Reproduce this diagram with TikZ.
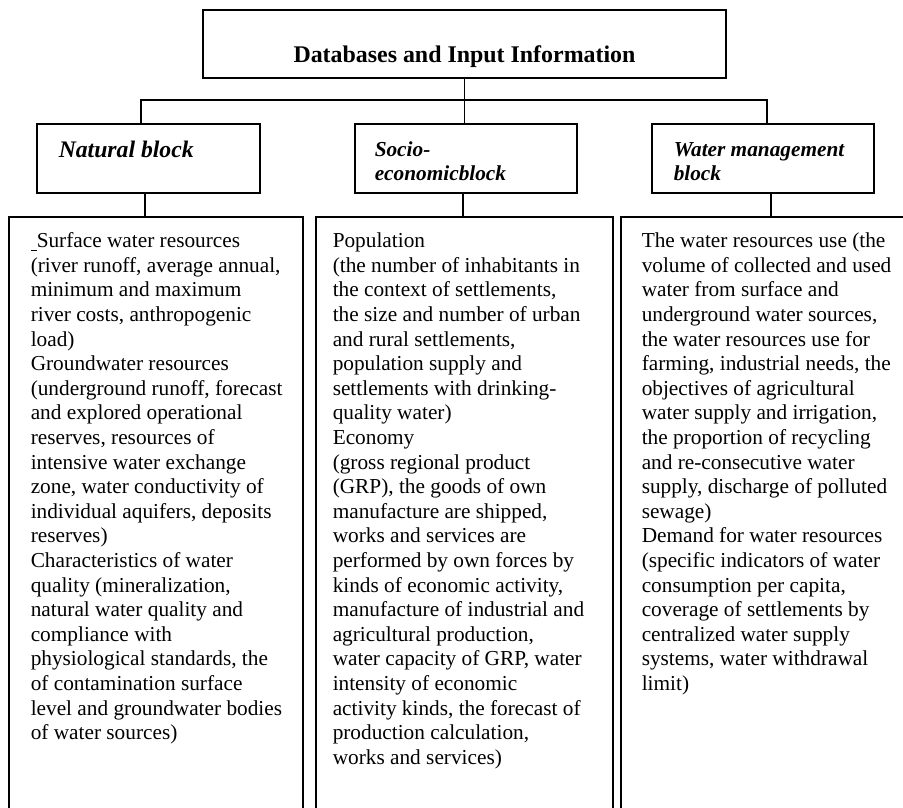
\documentclass[tikz,border=0pt]{standalone}
\usepackage{fontspec}
\setmainfont{Liberation Serif}
\usetikzlibrary{positioning}

\begin{document}
\begin{tikzpicture}[x=1pt, y=-1pt, line width=1.5pt,
  box/.style={draw, rectangle, inner sep=0pt},
  headtext/.style={anchor=north west, inner sep=0pt, align=left, font=\fontsize{21.3}{24}\selectfont\bfseries\itshape},
  bodytext/.style={anchor=north west, inner sep=0pt, align=left, font=\fontsize{21.3}{24.6}\selectfont}]
  \useasboundingbox (0,0) rectangle (903,808);
  \clip (0,0) rectangle (903,808);
  % title and the three block headers
  \node[box, minimum width=523, minimum height=68] (db)  at (464.5,44)  {};
  \node[anchor=base, inner sep=0pt, font=\fontsize{23.9}{27}\selectfont\bfseries] (dbtext) at (464.5,63) {Databases and Input Information};
  \node[box, minimum width=223, minimum height=69] (nat) at (148.5,158.5) {};
  \node[box, minimum width=222, minimum height=69] (soc) at (466,158.5)   {};
  \node[box, minimum width=222, minimum height=69] (wat) at (763,158.5)   {};
  \node[headtext, font=\fontsize{23.7}{24}\selectfont\bfseries\itshape] (nattext) at (58,140.2) {\strut Natural block};
  \node[headtext] (soctext) at (374,139.2) {\strut Socio-\\economicblock};
  \node[headtext] (wattext) at (673,139.2) {\strut Water management\\block};
  % content boxes, cut off by the page edge
  \node[box, minimum width=294, minimum height=613] (natc) at (156,523.5)   {};
  \node[box, minimum width=297, minimum height=613] (socc) at (464.5,523.5) {};
  \node[box, minimum width=294, minimum height=613] (watc) at (768,523.5)   {};
  \node[bodytext] (natlist) at (30,229.8) {\strut\rule[-3pt]{6pt}{1.2pt}Surface water resources\\
    (river runoff, average annual,\\
    minimum and maximum\\
    river costs, anthropogenic\\
    load)\\
    Groundwater resources\\
    (underground runoff, forecast\\
    and explored operational\\
    reserves, resources of\\
    intensive water exchange\\
    zone, water conductivity of\\
    individual aquifers, deposits\\
    reserves)\\
    Characteristics of water\\
    quality (mineralization,\\
    natural water quality and\\
    compliance with\\
    physiological standards, the\\
    of contamination surface\\
    level and groundwater bodies\\
    of water sources)};
  \node[bodytext] (soclist) at (332,229.8) {\strut Population\\
    (the number of inhabitants in\\
    the context of settlements,\\
    the size and number of urban\\
    and rural settlements,\\
    population supply and\\
    settlements with drinking-\\
    quality water)\\
    Economy\\
    (gross regional product\\
    (GRP), the goods of own\\
    manufacture are shipped,\\
    works and services are\\
    performed by own forces by\\
    kinds of economic activity,\\
    manufacture of industrial and\\
    agricultural production,\\
    water capacity of GRP, water\\
    intensity of economic\\
    activity kinds, the forecast of\\
    production calculation,\\
    works and services)};
  \node[bodytext] (watlist) at (641,229.8) {\strut The water resources use (the\\
    volume of collected and used\\
    water from surface and\\
    underground water sources,\\
    the water resources use for\\
    farming, industrial needs, the\\
    objectives of agricultural\\
    water supply and irrigation,\\
    the proportion of recycling\\
    and re-consecutive water\\
    supply, discharge of polluted\\
    sewage)\\
    Demand for water resources\\
    (specific indicators of water\\
    consumption per capita,\\
    coverage of settlements by\\
    centralized water supply\\
    systems, water withdrawal\\
    limit)};
  % connectors
  \coordinate (busL) at (141,100);
  \coordinate (busR) at (767,100);
  \draw (db.south) -- (db.south |- soc.north);
  \draw (busL |- nat.north) -- (busL) -- (busR) -- (busR |- wat.north);
  \draw ([xshift=-3.5pt]nat.south) -- ([xshift=-3.5pt]nat.south |- natc.north);
  \draw ([xshift=-3pt]soc.south)   -- ([xshift=-3pt]soc.south |- socc.north);
  \draw ([xshift=8pt]wat.south)    -- ([xshift=8pt]wat.south |- watc.north);
\end{tikzpicture}
\end{document}
